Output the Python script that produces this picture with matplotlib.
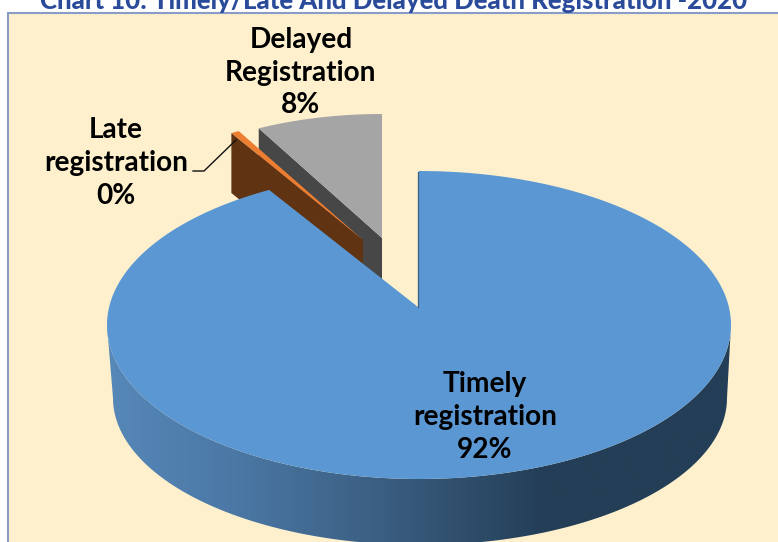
import numpy as np
import matplotlib
matplotlib.use("Agg")
import matplotlib.pyplot as plt
from matplotlib.colors import LinearSegmentedColormap
from matplotlib.patches import Polygon, Rectangle

categories = ["Timely\nregistration", "Late\nregistration", "Delayed\nRegistration"]
values = [92.2, 0.49, 7.5]
percent_labels = ["92%", "0%", "8%"]
title = "Chart 10: Timely/Late And Delayed Death Registration -2020"

W, H = 778, 542
fig = plt.figure(figsize=(W / 100, H / 100), dpi=100, facecolor="white")
ax = fig.add_axes([0, 0, 1, 1])
ax.set_xlim(0, W)
ax.set_ylim(H, 0)
ax.axis("off")

ax.add_patch(Rectangle((8, 13), W, H, fc="#FEF0CD", ec="#8A9BC8", lw=1.5, zorder=0))

shares = np.array(values) / sum(values) * 360
edges = np.concatenate([[0], np.cumsum(shares)])


def rim(a0, a1, c, rx, ry, n=200):
    t = np.radians(np.linspace(a0, a1, n))
    return np.column_stack([c[0] + rx * np.sin(t), c[1] - ry * np.cos(t)])


# Delayed slice (exploded)
del_rim = rim(edges[2], edges[3], (382, 246), 272, 132)
del_apex = np.array([382, 238])
dep = np.array([0, 60])
ax.add_patch(Polygon([del_rim[0], del_apex, del_apex + dep, del_rim[0] + dep],
                     fc="#474747", ec="none", zorder=1))
ax.add_patch(Polygon(np.vstack([del_rim, del_apex]), fc="#A5A5A5", ec="none", zorder=2))

# Late slice (exploded)
late_rim = rim(edges[1], edges[2], (363, 247), 274, 130, 20)
late_apex = np.array([363, 240])
ax.add_patch(Polygon([late_rim[0], late_apex, late_apex + dep, late_rim[0] + dep],
                     fc="#603312", ec="none", zorder=3))
ax.add_patch(Polygon(np.vstack([late_rim, late_apex]), fc="#ED7D31", ec="none", zorder=4))

# Timely slice
c_top, rx_top, ry_top = (419, 325), 312, 154
c_bot, rx_bot, ry_bot = (420, 398), 307, 147
front_top = rim(90, 270, c_top, rx_top, ry_top)
front_bot = rim(270, 90, c_bot, rx_bot, ry_bot)
side = Polygon(np.vstack([front_top, front_bot]), fc="none", ec="none", zorder=5)
ax.add_patch(side)
cmap = LinearSegmentedColormap.from_list(
    "side",
    [(0.0, "#5688B8"), (0.22, "#4A76A3"), (0.47, "#385B7C"), (0.70, "#243E57"), (1.0, "#243E57")],
)
grad = ax.imshow(np.linspace(0, 1, 512)[None, :], extent=(107, 731, 548, 320), cmap=cmap,
                 aspect="auto", zorder=5, interpolation="bilinear")
grad.set_clip_path(side)
ax.set_xlim(0, W)
ax.set_ylim(H, 0)

timely_apex = np.array([418, 307])
timely_rim = rim(edges[0], edges[1], c_top, rx_top, ry_top, 600)
ax.add_patch(Polygon(np.vstack([timely_rim, timely_apex]), fc="#5B98D3", ec="none", zorder=6))
ax.plot([418, 418], [172, 307], color="#3C5F80", lw=0.9, zorder=7)

# Leader line
ax.plot([193, 204, 236], [171, 171, 140], color="#111111", lw=1.0, zorder=8)

# Labels
font = dict(family="Lato", fontsize=20.2, fontweight="bold", color="black", ha="center",
            va="center", linespacing=1.31, zorder=9)
ax.text(485, 417, f"{categories[0]}\n{percent_labels[0]}", **font)
ax.text(116, 163, f"{categories[1]}\n{percent_labels[1]}", **font)
ax.text(301, 72.5, f"{categories[2]}\n{percent_labels[2]}", **font)

ax.text(394, 9, title, family="Lato", fontsize=18.5, fontweight="black", color="#2A4A9A",
        ha="center", va="baseline", zorder=9)

fig.savefig("out.png", dpi=100, facecolor="white")
